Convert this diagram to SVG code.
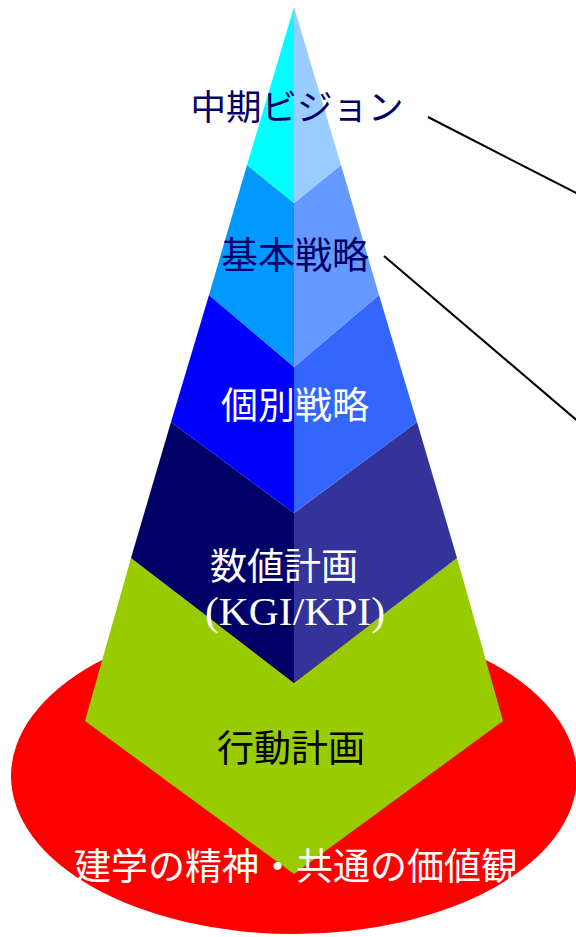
<svg xmlns="http://www.w3.org/2000/svg" width="576" height="937" viewBox="0 0 576 937">
<style>
.jp{font-family:"Noto Sans CJK JP","Noto Sans CJK SC",sans-serif;font-size:37px;text-anchor:middle}
.navy{fill:#000066}
.white{fill:#FFFFFF}
.black{fill:#000000}
.conn{stroke:#000000;stroke-width:2;fill:none}
</style>
<rect width="576" height="937" fill="#FFFFFF"/>
<g id="base">
<ellipse cx="294" cy="776" rx="283" ry="158" fill="#FF0000"/>
</g>
<g id="layer-action">
<polygon points="131,558 85,721 294,874 503,721 457,558 294,683" fill="#99CC00"/>
<text class="jp black" x="291" y="762">行動計画</text>
</g>
<g id="layer-numeric">
<polygon points="171,422 131,558 294,683 294,513" fill="#000066"/>
<polygon points="417,422 457,558 294,683 294,513" fill="#333399"/>
<text class="jp white" x="284" y="580">数値計画</text>
<text x="295" y="625" font-family="'Liberation Serif',serif" font-size="41" fill="#FFFFFF" text-anchor="middle" textLength="180" lengthAdjust="spacingAndGlyphs">(KGI/KPI)</text>
</g>
<g id="layer-individual">
<polygon points="209,295 171,422 294,513 294,367" fill="#0000FF"/>
<polygon points="379,295 417,422 294,513 294,367" fill="#3366FF"/>
<text class="jp white" x="295" y="419">個別戦略</text>
</g>
<g id="layer-basic">
<polygon points="247,165 209,295 294,367 294,203" fill="#0099FF"/>
<polygon points="341,165 379,295 294,367 294,203" fill="#6699FF"/>
<text class="jp navy" x="295" y="269">基本戦略</text>
</g>
<g id="layer-vision">
<polygon points="294,7 247,165 294,203" fill="#00FFFF"/>
<polygon points="294,7 341,165 294,203" fill="#99CCFF"/>
<text class="jp navy" x="297" y="120" style="font-size:35.5px">中期ビジョン</text>
</g>
<g id="base-label">
<text class="jp white" x="296" y="880">建学の精神・共通の価値観</text>
</g>
<g id="connectors">
<line class="conn" x1="428" y1="117" x2="580" y2="195"/>
<line class="conn" x1="384" y1="256" x2="580" y2="423"/>
</g>
</svg>
